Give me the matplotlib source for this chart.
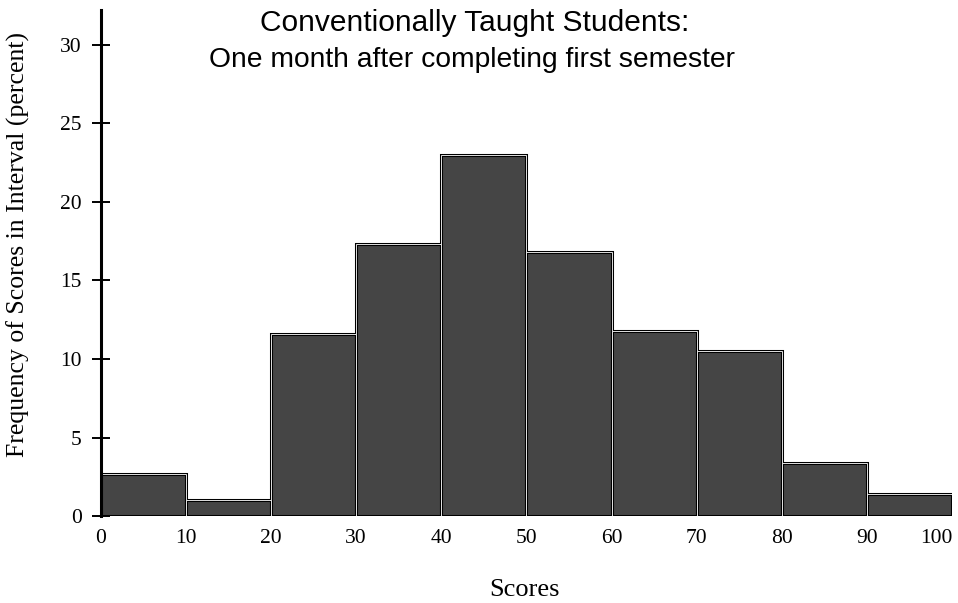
import matplotlib
matplotlib.use("Agg")
import matplotlib.pyplot as plt

# Histogram data
bin_edges = [0, 10, 20, 30, 40, 50, 60, 70, 80, 90]
percent = [2.7, 1.0, 11.6, 17.3, 23.0, 16.8, 11.8, 10.5, 3.4, 1.4]
x_ticks = [0, 10, 20, 30, 40, 50, 60, 70, 80, 90, 100]
y_ticks = [0, 5, 10, 15, 20, 25, 30]

title = "Conventionally Taught Students:"
subtitle = "One month after completing first semester"
x_label = "Scores"
y_label = "Frequency of Scores in Interval (percent)"

fig = plt.figure(figsize=(9.58, 6.03), dpi=100)
ax = fig.add_axes([0.105, 0.144, 0.889, 0.839])

ax.bar(bin_edges, percent, width=10, align="edge",
       color="#454545", edgecolor="black", linewidth=2.2)
# thin light line inside each bar, like the scan
ax.bar(bin_edges, percent, width=10, align="edge",
       color="none", edgecolor="#e0e0e0", linewidth=0.7)

ax.set_xlim(0, 100)
ax.set_ylim(0, 32.2)
ax.set_xticks(x_ticks)
ax.set_yticks(y_ticks)

serif = "Liberation Serif"
ax.set_xticklabels([str(v) for v in x_ticks], family=serif, fontsize=15.5)
ax.set_yticklabels([str(v) for v in y_ticks], family=serif, fontsize=15.5)
ax.get_xticklabels()[-1].set_ha("right")
ax.tick_params(axis="x", length=0, pad=9)
ax.tick_params(axis="y", direction="inout", length=13, width=1.4, pad=7)

for side in ["top", "right", "bottom"]:
    ax.spines[side].set_visible(False)
ax.spines["left"].set_linewidth(2.2)

fig.text(0.547, 0.021, x_label, ha="center", va="center",
         family=serif, fontsize=19)
fig.text(0.019, 0.594, y_label, ha="center", va="center", rotation=90,
         family=serif, fontsize=18.5)

fig.text(0.495, 0.962, title, ha="center", va="center",
         family="Liberation Sans", fontsize=21.5)
fig.text(0.493, 0.900, subtitle, ha="center", va="center",
         family="Liberation Sans", fontsize=20.3)

fig.savefig("out.png", dpi=100)
